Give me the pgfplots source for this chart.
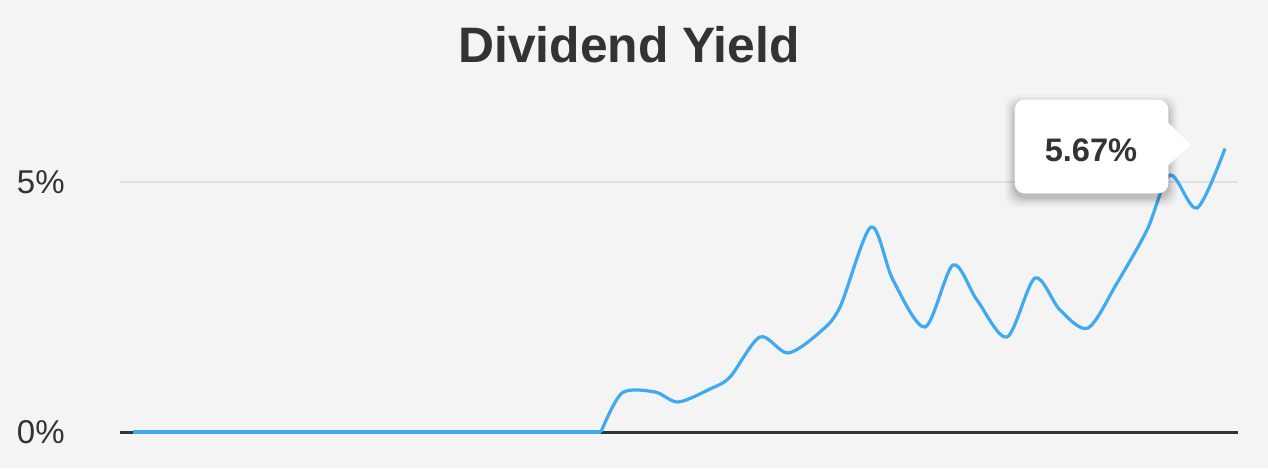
\documentclass[border=0pt]{standalone}
\usepackage{pgfplots}
\pgfplotsset{compat=1.18}
\usepackage{fontspec}
\setmainfont{Liberation Sans}
\definecolor{bg}{HTML}{F4F4F4}
\definecolor{txt}{HTML}{333333}
\definecolor{gridc}{HTML}{E0E0E0}
\definecolor{linec}{RGB}{64,170,240}
\begin{document}
\begin{tikzpicture}[x=1pt,y=1pt]
% 1 px of the reference = 0.5pt
\fill[bg] (0,0) rectangle (634,234);
\node[txt, font=\fontsize{24.9}{30}\selectfont\bfseries] at (314.5,211.5) {Dividend Yield};
\begin{axis}[
    at={(60pt,18pt)}, anchor=south west,
    scale only axis,
    width=559pt, height=150pt,
    xmin=120, xmax=1238,
    ymin=0, ymax=6,
    axis x line*=bottom,
    axis y line*=left,
    y axis line style={draw=none},
    x axis line style={txt, line width=1.5pt, -},
    xtick=\empty,
    ytick={0,5},
    yticklabels={\raisebox{-2.5pt}{0\%},5\%},
    ymajorgrids,
    grid style={gridc, line width=0.8pt},
    major tick length=0pt,
    yticklabel style={anchor=east, inner sep=0pt, xshift=-27.5pt, text=txt,
        font=\fontsize{16.5}{20}\selectfont},
    clip=false,
]
\addplot[linec, line width=1.6pt, no markers] coordinates {
    (133,0) (601,0)
};
\addplot[linec, line width=1.6pt, smooth, no markers] coordinates {
    (601,0) (622,0.78) (655,0.8) (678,0.6) (710,0.86) (730,1.1)
    (760,1.9) (788,1.58) (820,2.0) (840,2.5) (871,4.1) (893,3.04)
    (925,2.1) (953,3.34) (977,2.64) (1007,1.9) (1035,3.08) (1060,2.44)
    (1088,2.08) (1117,2.98) (1147,4.04) (1170,5.14) (1197,4.48) (1225,5.67)
};
\end{axis}
% tooltip
\foreach \o/\a in {5/0.025,4/0.035,3/0.045,2/0.06,1/0.08}{
  \fill[black, opacity=\a, rounded corners=6pt]
    (507.5-\o,137.5-\o-2) rectangle (584+\o,184+\o-2.5);
}
\fill[white, draw=white]
    (507.5,142.5) [rounded corners=5pt] -- (507.5,137.5) -- (584,137.5) [sharp corners]
    -- (584,151.5) -- (595,161.5) -- (584,172.5) [rounded corners=5pt]
    -- (584,184) -- (507.5,184) [sharp corners] -- cycle;
\node[txt, font=\fontsize{16.3}{20}\selectfont\bfseries] at (545.5,159) {5.67\%};
\pgfresetboundingbox
\useasboundingbox (0,0) rectangle (634,234);
\end{tikzpicture}
\end{document}
